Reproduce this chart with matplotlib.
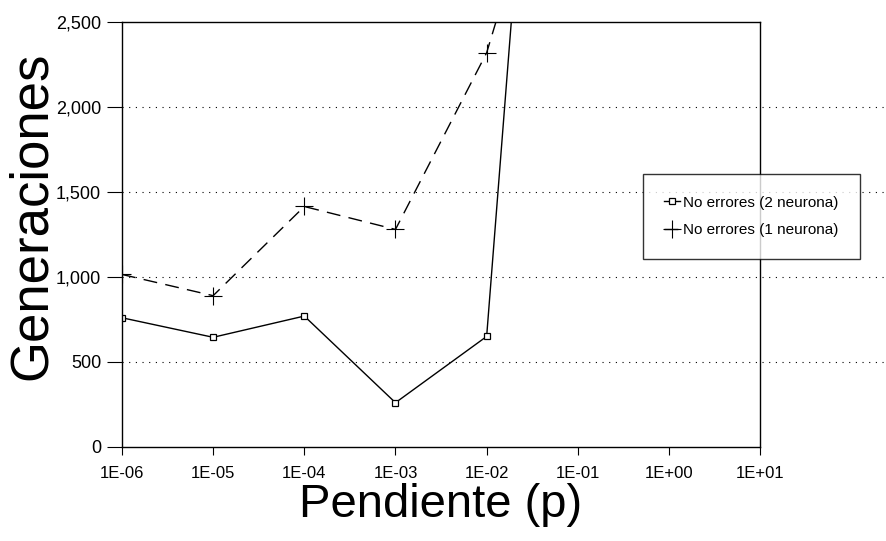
import numpy as np
import matplotlib
matplotlib.use("Agg")
import matplotlib.pyplot as plt

# pendiente (p) values and generations for each network size
pendiente = [1e-6, 1e-5, 1e-4, 1e-3, 1e-2, 1e-1]
gen_2_neurona = [760, 645, 770, 260, 650, 7500]
gen_1_neurona = [1015, 890, 1415, 1280, 2320, 4100]

x_ticks = [1e-6, 1e-5, 1e-4, 1e-3, 1e-2, 1e-1, 1e0, 1e1]
x_labels = ["1E-06", "1E-05", "1E-04", "1E-03", "1E-02", "1E-01", "1E+00", "1E+01"]
y_ticks = [0, 500, 1000, 1500, 2000, 2500]
y_labels = ["0", "500", "1,000", "1,500", "2,000", "2,500"]
grid_levels = [500, 1000, 1500, 2000]

plt.rcParams["font.family"] = ["Liberation Sans", "DejaVu Sans"]

fig = plt.figure(figsize=(8.87, 5.41), dpi=100)
ax = fig.add_axes([0.1375, 0.174, 0.7195, 0.785])

ax.plot(pendiente, gen_2_neurona, color="black", lw=1.0, marker="s",
        markersize=4, markerfacecolor="white", markeredgewidth=0.9,
        label="No errores (2 neurona)")
ax.plot(pendiente, gen_1_neurona, color="black", lw=1.0, ls=(0, (10, 6)),
        marker="+", markersize=13, markeredgewidth=0.8,
        label="No errores (1 neurona)")

# dotted gridlines run past the right spine to the page edge
for g in grid_levels:
    ax.axhline(g, xmin=0, xmax=1.2, color="black", lw=0.8,
               ls=(0, (1, 5)), clip_on=False, zorder=0)

ax.set_xscale("log")
ax.set_xlim(1e-6, 1e1)
ax.set_ylim(0, 2500)
ax.set_xticks(x_ticks)
ax.set_xticklabels(x_labels, fontsize=12)
ax.minorticks_off()
ax.set_yticks(y_ticks)
ax.set_yticklabels(y_labels, fontsize=13)
ax.tick_params(axis="x", direction="out", length=6, width=0.8, pad=8)
ax.tick_params(axis="y", direction="out", length=11, width=0.8, pad=4)

for s in ax.spines.values():
    s.set_linewidth(1.0)

ax.set_xlabel("Pendiente (p)", fontsize=34)
ax.xaxis.set_label_coords(0.5, -0.086)
ax.set_ylabel("Generaciones", fontsize=38)
ax.yaxis.set_label_coords(-0.102, 0.545)

leg = fig.legend(loc="upper left", bbox_to_anchor=(0.725, 0.678),
                 fontsize=11, frameon=True, fancybox=False,
                 handlelength=1.0, handletextpad=0.2, borderpad=1.4,
                 labelspacing=0.9, borderaxespad=0)
leg.get_frame().set_edgecolor("black")
leg.get_frame().set_linewidth(1.0)

fig.savefig("out.png", dpi=100)
